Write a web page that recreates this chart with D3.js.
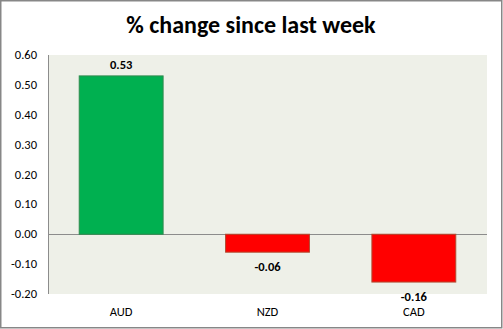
<!DOCTYPE html>
<html>
<head>
<meta charset="utf-8">
<script src="https://cdn.jsdelivr.net/npm/d3@7"></script>
<style>
  html, body { margin: 0; padding: 0; background: #fff; }
  svg { display: block; font-family: Carlito, "Open Sans", "Liberation Sans", sans-serif; }
</style>
</head>
<body>
<svg id="chart" width="503" height="329"></svg>
<script>
// Weekly percentage change by currency
const currencies = ["AUD", "NZD", "CAD"];
const changes = [0.53, -0.06, -0.16];
const yTicks = [0.6, 0.5, 0.4, 0.3, 0.2, 0.1, 0, -0.1, -0.2];
const chartTitle = "% change since last week";

const W = 503, H = 329;
const plot = { left: 48, right: 487, top: 55, bottom: 294 };

// two decimals with a plain hyphen for negatives
const fmt = d => d3.format(".2f")(d).replace("\u2212", "-");

const svg = d3.select("#chart");

// outer frame
svg.append("rect")
  .attr("x", 0.75).attr("y", 0.75)
  .attr("width", W - 2).attr("height", H - 2)
  .attr("fill", "#fff").attr("stroke", "#878787").attr("stroke-width", 1.5);

svg.append("text")
  .attr("x", 251).attr("y", 33)
  .attr("text-anchor", "middle")
  .attr("font-size", 24).attr("font-weight", "bold")
  .attr("fill", "#000")
  .text(chartTitle);

const x = d3.scaleBand()
  .domain(currencies)
  .range([plot.left, plot.right])
  .paddingInner(0.42).paddingOuter(0.21);

const y = d3.scaleLinear()
  .domain([-0.2, 0.6])
  .range([plot.bottom, plot.top]);

// plot background
svg.append("rect")
  .attr("x", plot.left).attr("y", plot.top)
  .attr("width", plot.right - plot.left).attr("height", plot.bottom - plot.top)
  .attr("fill", "#EEF0E8");

// y axis line
svg.append("line")
  .attr("x1", plot.left + 0.5).attr("x2", plot.left + 0.5)
  .attr("y1", plot.top).attr("y2", plot.bottom)
  .attr("stroke", "#8c8c8c");

// zero line
svg.append("line")
  .attr("x1", plot.left).attr("x2", plot.right)
  .attr("y1", Math.round(y(0)) + 0.5).attr("y2", Math.round(y(0)) + 0.5)
  .attr("stroke", "#8c8c8c");

// y tick labels
svg.append("g")
  .selectAll("text")
  .data(yTicks)
  .join("text")
  .attr("x", 37)
  .attr("y", d => y(d) + 4)
  .attr("text-anchor", "end")
  .attr("font-size", 12.5)
  .attr("fill", "#000")
  .text(fmt);

// bars
svg.append("g")
  .selectAll("rect")
  .data(currencies.map((c, i) => ({ c, v: changes[i] })))
  .join("rect")
  .attr("x", d => x(d.c) + 0.5)
  .attr("y", d => Math.min(y(d.v), y(0)))
  .attr("width", x.bandwidth() - 1)
  .attr("height", d => Math.abs(y(d.v) - y(0)))
  .attr("fill", d => d.v >= 0 ? "#00B050" : "#FF0000")
  .attr("stroke", d => d.v >= 0 ? "#2E8B4E" : "#B04A30")
  .attr("stroke-width", 1);

// value labels
svg.append("g")
  .selectAll("text")
  .data(currencies.map((c, i) => ({ c, v: changes[i] })))
  .join("text")
  .attr("x", d => x(d.c) + x.bandwidth() / 2)
  .attr("y", d => d.v >= 0 ? y(d.v) - 7 : y(d.v) + 19)
  .attr("text-anchor", "middle")
  .attr("font-size", 12.5).attr("font-weight", "bold")
  .attr("fill", "#000")
  .text(d => fmt(d.v));

// category labels
svg.append("g")
  .selectAll("text")
  .data(currencies)
  .join("text")
  .attr("x", d => x(d) + x.bandwidth() / 2)
  .attr("y", 316)
  .attr("text-anchor", "middle")
  .attr("font-size", 12.5)
  .attr("fill", "#000")
  .text(d => d);
</script>
</body>
</html>
